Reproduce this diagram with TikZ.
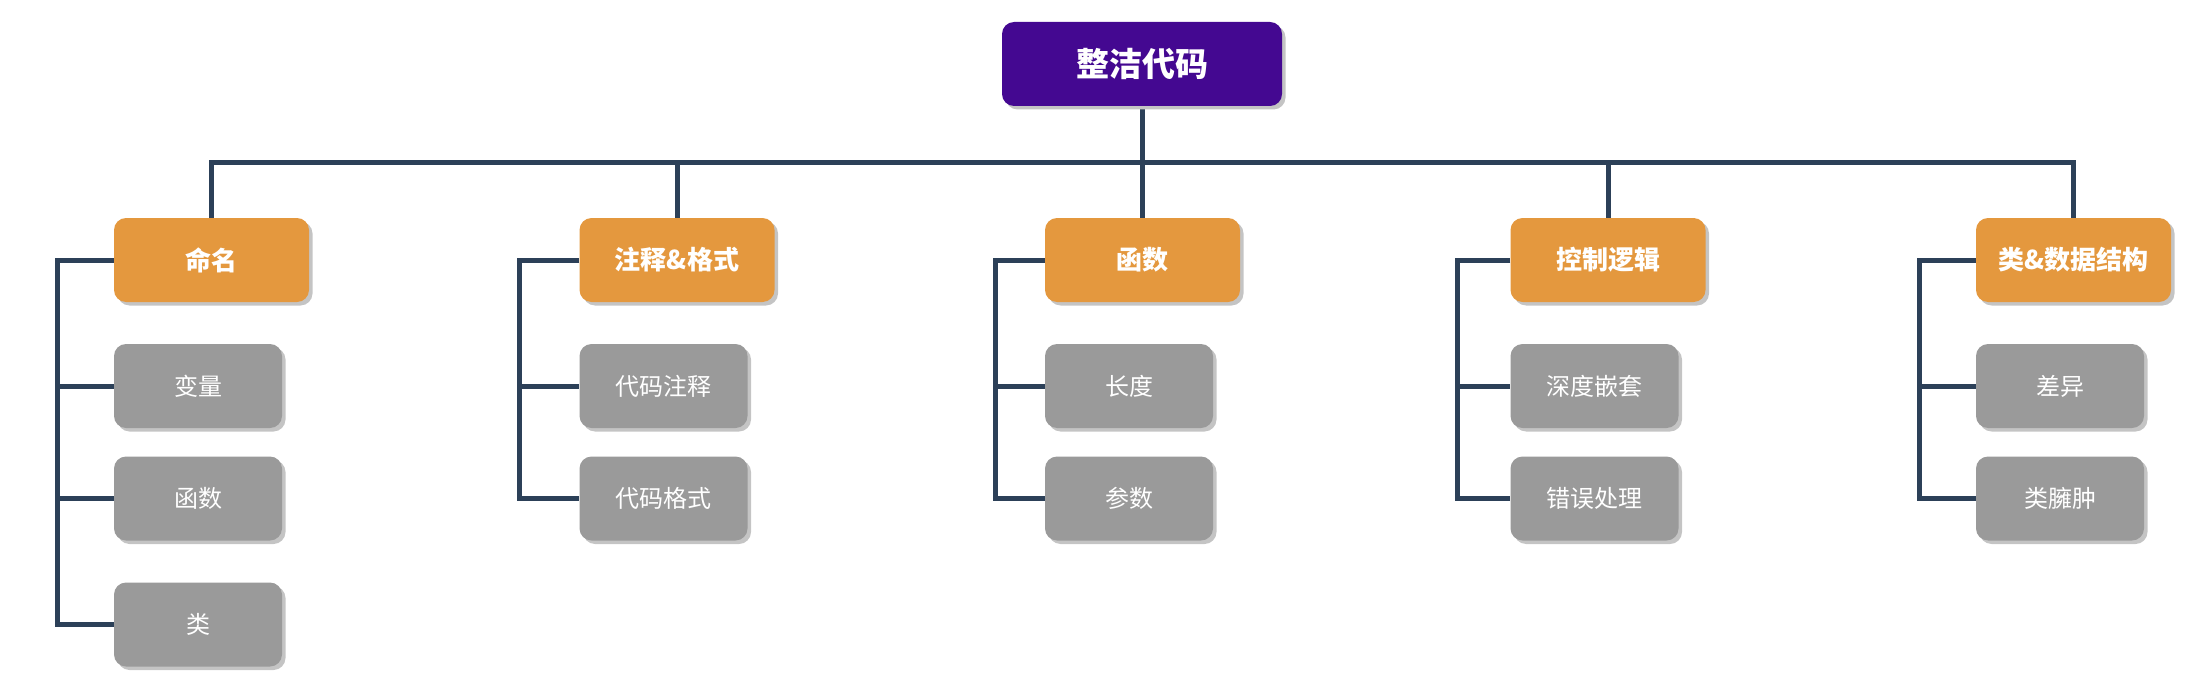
\documentclass[tikz,border=0pt]{standalone}
\usepackage{fontspec}
\setmainfont{Noto Sans CJK SC}
\usetikzlibrary{shadows,backgrounds,calc}
\definecolor{rootc}{HTML}{440891}
\definecolor{orangec}{HTML}{E4983E}
\definecolor{grayc}{HTML}{9A9A9A}
\definecolor{linec}{HTML}{2C4058}
\definecolor{shadowc}{HTML}{C4C4C4}
\tikzset{
  boxbase/.style={rectangle, rounded corners=12pt, inner sep=0pt, text=white,
    minimum height=84pt,
    drop shadow={shadow xshift=3.5pt, shadow yshift=-3.5pt, fill=shadowc, opacity=1}},
  rootbox/.style={boxbase, fill=rootc, minimum width=280pt, font=\fontsize{33}{36}\selectfont\bfseries},
  catbox/.style={boxbase, fill=orangec, minimum width=195pt, font=\fontsize{26}{30}\selectfont\bfseries},
  leafbox/.style={boxbase, fill=grayc, minimum width=168pt, font=\fontsize{24}{28}\selectfont},
  conn/.style={draw=linec, line width=5pt}
}
\begin{document}
\begin{tikzpicture}[x=1pt,y=-1pt]
\useasboundingbox (0,0) rectangle (2198,698);
\node[rootbox] (root) at (1142,64) {整洁代码};
% level 1
\node[catbox] (ca) at (211.5,260) {命名};
\node[catbox] (cb) at (677,260) {注释\&格式};
\node[catbox] (cc) at (1142.5,260) {函数};
\node[catbox] (cd) at (1608,260) {控制逻辑};
\node[catbox] (ce) at (2073.5,260) {类\&数据结构};
% level 2
\node[leafbox] (a1) at (198,386) {变量};
\node[leafbox] (a2) at (198,498.5) {函数};
\node[leafbox] (a3) at (198,624.5) {类};
\node[leafbox] (b1) at (663.5,386) {代码注释};
\node[leafbox] (b2) at (663.5,498.5) {代码格式};
\node[leafbox] (c1) at (1129,386) {长度};
\node[leafbox] (c2) at (1129,498.5) {参数};
\node[leafbox] (d1) at (1594.5,386) {深度嵌套};
\node[leafbox] (d2) at (1594.5,498.5) {错误处理};
\node[leafbox] (e1) at (2060,386) {差异};
\node[leafbox] (e2) at (2060,498.5) {类臃肿};
\coordinate (bus) at (1142,163);
\coordinate (ba) at (57,260);
\coordinate (bb) at (519,260);
\coordinate (bc) at (995,260);
\coordinate (bd) at (1457,260);
\coordinate (be) at (1919,260);
\begin{scope}[on background layer]
  \draw[conn] (root.south) -- (root.south |- bus);
  \draw[conn] (ca.north) |- (bus) -| (ce.north);
  \draw[conn] (cb.north) -- (cb.north |- bus);
  \draw[conn] (cc.north) -- (cc.north |- bus);
  \draw[conn] (cd.north) -- (cd.north |- bus);
  % branches
  \draw[conn] (ca.west) -- (ba) |- (a3.west);
  \draw[conn] (ba |- a1.west) -- (a1.west);
  \draw[conn] (ba |- a2.west) -- (a2.west);
  \draw[conn] (cb.west) -- (bb) |- (b2.west);
  \draw[conn] (bb |- b1.west) -- (b1.west);
  \draw[conn] (cc.west) -- (bc) |- (c2.west);
  \draw[conn] (bc |- c1.west) -- (c1.west);
  \draw[conn] (cd.west) -- (bd) |- (d2.west);
  \draw[conn] (bd |- d1.west) -- (d1.west);
  \draw[conn] (ce.west) -- (be) |- (e2.west);
  \draw[conn] (be |- e1.west) -- (e1.west);
\end{scope}
\end{tikzpicture}
\end{document}
